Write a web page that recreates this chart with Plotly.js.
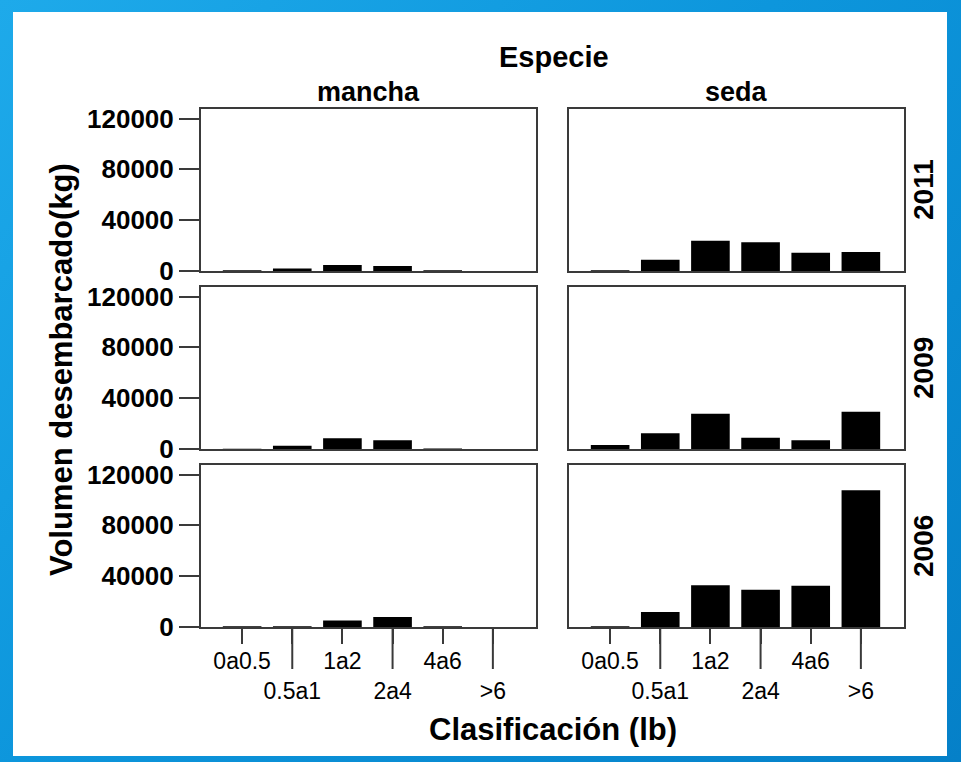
<!DOCTYPE html>
<html>
<head>
<meta charset="utf-8">
<script src="https://cdn.plot.ly/plotly-3.0.1.min.js"></script>
<style>
  html, body { margin: 0; padding: 0; }
  body {
    width: 961px; height: 762px; overflow: hidden; position: relative;
    background: linear-gradient(135deg, #1eaaea 0%, #0d96dc 45%, #0580c8 100%);
  }
  #chart { position: absolute; left: 13px; top: 12px; width: 934px; height: 744px; background: #fff; }
</style>
</head>
<body>
<div id="chart"></div>
<script>
// Weight classes (lb)
const categories = ['0a0.5', '0.5a1', '1a2', '2a4', '4a6', '>6'];

// Landed volume (kg) per species and year
const mancha2011 = [500, 2000, 4700, 3900, 500, 0];
const seda2011   = [500, 8900, 23800, 22700, 14400, 14900];
const mancha2009 = [200, 2600, 8400, 6800, 300, 0];
const seda2009   = [3100, 12300, 27700, 8900, 6800, 29300];
const mancha2006 = [500, 600, 5200, 7800, 500, 0];
const seda2006   = [600, 11800, 32900, 29300, 32400, 107700];

const species = ['mancha', 'seda'];
const years = ['2011', '2009', '2006'];
const yTicks = [0, 40000, 80000, 120000];

const FONT = 'Liberation Sans, Arial, Helvetica, sans-serif';
const LINE = '#3a3a3a';

// panel grid: rows = years, cols = species
const panels = [
  [mancha2011, seda2011],
  [mancha2009, seda2009],
  [mancha2006, seda2006]
];

const W = 934, H = 744;
const colPx = [[188, 523], [556, 891]];
const rowPx = [[97, 259], [275, 437], [453, 615]];

const data = [];
const layout = {
  width: W, height: H,
  margin: { l: 0, r: 0, t: 0, b: 0 },
  paper_bgcolor: '#ffffff',
  plot_bgcolor: '#ffffff',
  showlegend: false,
  font: { family: FONT, color: '#000' },
  shapes: [],
  annotations: []
};

let n = 0;
panels.forEach((row, r) => {
  row.forEach((vals, c) => {
    n += 1;
    const sfx = n === 1 ? '' : String(n);
    const bottom = r === panels.length - 1;
    const left = c === 0;

    data.push({
      type: 'bar',
      x: categories,
      y: vals,
      xaxis: 'x' + sfx,
      yaxis: 'y' + sfx,
      width: 0.77,
      marker: { color: '#000', line: { width: 0 } },
      hoverinfo: 'x+y'
    });

    layout['xaxis' + sfx] = {
      domain: [colPx[c][0] / W, colPx[c][1] / W],
      anchor: 'y' + sfx,
      type: 'category',
      categoryorder: 'array',
      categoryarray: categories,
      range: [-0.82, 5.86],
      showline: true, mirror: true, linecolor: LINE, linewidth: 2,
      showgrid: false, zeroline: false,
      ticks: bottom ? 'outside' : '',
      ticklen: 15, tickwidth: 2, tickcolor: LINE,
      tickmode: 'array',
      tickvals: categories,
      ticktext: categories.map((t, i) => (i % 2 === 1 ? '<br>' + t : t)),
      tickangle: 0,
      ticklabelstandoff: -3,
      showticklabels: bottom,
      tickfont: { family: FONT, size: 23, color: '#000' },
      fixedrange: true
    };

    layout['yaxis' + sfx] = {
      domain: [1 - rowPx[r][1] / H, 1 - rowPx[r][0] / H],
      anchor: 'x' + sfx,
      range: [0, 127500],
      showline: true, mirror: true, linecolor: LINE, linewidth: 2,
      showgrid: false, zeroline: false,
      ticks: left ? 'outside' : '',
      ticklen: 20, tickwidth: 2, tickcolor: LINE,
      tickmode: 'array',
      tickvals: yTicks,
      tickformat: 'd',
      showticklabels: left,
      tickfont: { family: FONT, size: 26, color: '#000', weight: 700 },
      fixedrange: true
    };

    // longer ticks for the staggered (lower) labels
    if (bottom) {
      categories.forEach((cat, i) => {
        if (i % 2 === 1) {
          layout.shapes.push({
            type: 'line',
            xref: 'x' + sfx, yref: 'y' + sfx + ' domain',
            ysizemode: 'pixel', yanchor: 0,
            x0: i, x1: i, y0: -42, y1: 0,
            line: { color: LINE, width: 2 }
          });
        }
      });
    }
  });
});

// facet headers
species.forEach((s, c) => {
  layout.annotations.push({
    text: '<b>' + s + '</b>',
    xref: 'paper', yref: 'paper',
    x: (colPx[c][0] + colPx[c][1]) / 2 / W, y: 1 - 80 / H,
    xanchor: 'center', yanchor: 'middle', showarrow: false,
    font: { family: FONT, size: 27, color: '#000' }
  });
});

years.forEach((yr, r) => {
  layout.annotations.push({
    text: '<b>' + yr + '</b>',
    xref: 'paper', yref: 'paper',
    x: 910 / W, y: 1 - (rowPx[r][0] + rowPx[r][1]) / 2 / H,
    xanchor: 'center', yanchor: 'middle', showarrow: false,
    textangle: -90,
    font: { family: FONT, size: 28, color: '#000' }
  });
});

layout.annotations.push(
  {
    text: '<b>Especie</b>',
    xref: 'paper', yref: 'paper', x: 541 / W, y: 1 - 45 / H,
    xanchor: 'center', yanchor: 'middle', showarrow: false,
    font: { family: FONT, size: 29, color: '#000' }
  },
  {
    text: '<b>Volumen desembarcado(kg)</b>',
    xref: 'paper', yref: 'paper', x: 48 / W, y: 1 - 358 / H,
    xanchor: 'center', yanchor: 'middle', showarrow: false,
    textangle: -90,
    font: { family: FONT, size: 31, color: '#000' }
  },
  {
    text: '<b>Clasificación (lb)</b>',
    xref: 'paper', yref: 'paper', x: 540 / W, y: 1 - 717 / H,
    xanchor: 'center', yanchor: 'middle', showarrow: false,
    font: { family: FONT, size: 31, color: '#000' }
  }
);

Plotly.newPlot('chart', data, layout, { displayModeBar: false, staticPlot: true });
</script>
</body>
</html>
